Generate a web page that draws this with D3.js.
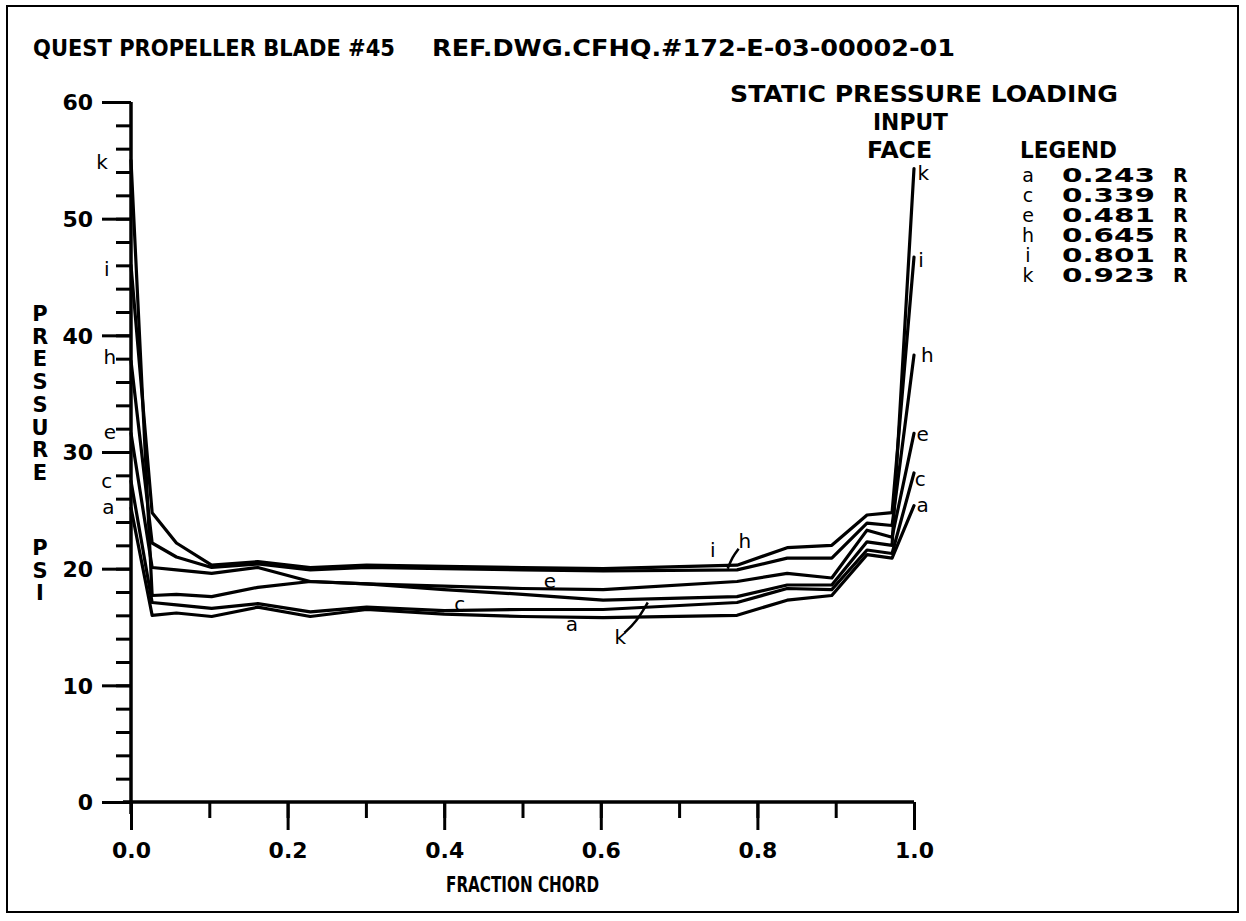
<!DOCTYPE html>
<html>
<head>
<meta charset="utf-8">
<script src="https://cdn.jsdelivr.net/npm/d3@7"></script>
<style>
  html, body { margin: 0; padding: 0; background: #fff; }
  svg text { font-family: "DejaVu Sans", "Liberation Sans", sans-serif; font-weight: bold; fill: #000; }
</style>
</head>
<body>
<svg id="chart" width="1246" height="921"></svg>
<script>
// ---- data ----
const chordStations = [0, 0.027, 0.058, 0.103, 0.162, 0.229, 0.301, 0.4, 0.5, 0.603, 0.774, 0.838, 0.895, 0.94, 0.972, 1.0];
const seriesNames = ["a", "c", "e", "h", "i", "k"];
const radiusLabels = ["0.243", "0.339", "0.481", "0.645", "0.801", "0.923"];
const pressureA = [25.2, 16.0, 16.2, 15.9, 16.7, 15.9, 16.5, 16.1, 15.9, 15.8, 16.0, 17.3, 17.7, 21.2, 20.9, 25.4];
const pressureC = [27.5, 17.1, 16.9, 16.6, 17.0, 16.3, 16.7, 16.4, 16.5, 16.5, 17.1, 18.3, 18.2, 21.6, 21.3, 28.2];
const pressureE = [31.6, 20.1, 19.9, 19.6, 20.1, 18.9, 18.7, 18.5, 18.3, 18.2, 18.9, 19.6, 19.2, 23.3, 22.7, 31.6];
const pressureH = [37.8, 22.2, 21.0, 20.1, 20.4, 19.9, 20.1, 20.0, 19.9, 19.8, 19.9, 20.9, 20.9, 23.9, 23.7, 38.3];
const pressureI = [46.0, 24.8, 22.2, 20.3, 20.6, 20.1, 20.3, 20.2, 20.1, 20.0, 20.3, 21.8, 22.0, 24.6, 24.8, 46.7];
const pressureK = [55.0, 17.7, 17.8, 17.6, 18.4, 18.9, 18.7, 18.2, 17.8, 17.3, 17.6, 18.6, 18.6, 22.3, 22.0, 54.3];
const xTickLabels = ["0.0", "0.2", "0.4", "0.6", "0.8", "1.0"];
const yTickLabels = ["0", "10", "20", "30", "40", "50", "60"];

// curve-label annotations (data units)
const leftLabels = [["a", -0.029, 25.2], ["c", -0.031, 27.4], ["e", -0.027, 31.6], ["h", -0.027, 38.1], ["i", -0.031, 45.6], ["k", -0.037, 54.8]];
const rightLabels = [["a", 1.011, 25.4], ["c", 1.008, 27.6], ["e", 1.011, 31.5], ["h", 1.017, 38.2], ["i", 1.009, 46.4], ["k", 1.012, 53.8]];
const midLabels = [["i", 0.743, 21.5], ["h", 0.784, 22.3], ["e", 0.535, 18.9], ["c", 0.420, 16.9], ["a", 0.563, 15.2], ["k", 0.625, 14.1]];
const leaderH = [[0.762, 20.0], [0.768, 21.0], [0.776, 21.7]];
const leaderK = [[0.630, 14.5], [0.645, 15.4], [0.660, 17.1]];

const seriesValues = [pressureA, pressureC, pressureE, pressureH, pressureI, pressureK];

// ---- drawing ----
const svg = d3.select("#chart");
svg.append("rect").attr("x", 0).attr("y", 0).attr("width", 1246).attr("height", 921).attr("fill", "#fff");
svg.append("rect").attr("x", 7).attr("y", 6).attr("width", 1231).attr("height", 906)
  .attr("fill", "none").attr("stroke", "#000").attr("stroke-width", 2);

const x = d3.scaleLinear().domain([0, 1]).range([131, 914]);
const y = d3.scaleLinear().domain([0, 60]).range([802, 102]);

// Y axis: minor ticks every 2, major every 10
const yMinor = d3.axisLeft(y).tickValues(d3.range(0, 61, 2)).tickSize(15).tickFormat("");
const yMajor = d3.axisLeft(y).tickValues(d3.range(0, 61, 10)).tickSize(29).tickPadding(9)
  .tickFormat((d, i) => yTickLabels[i]);
const gy1 = svg.append("g").attr("transform", `translate(${x(0)},0)`).call(yMinor);
const gy2 = svg.append("g").attr("transform", `translate(${x(0)},0)`).call(yMajor);
[gy1, gy2].forEach(g => {
  g.select(".domain").remove();
  g.selectAll("line").attr("stroke", "#000").attr("stroke-width", 3);
  g.selectAll("text").style("font-size", "22px").style("font-family", "DejaVu Sans").style("font-weight", "bold");
});
gy2.selectAll("text").attr("dy", "0.36em");
svg.append("line").attr("x1", x(0)).attr("x2", x(0)).attr("y1", y(60)).attr("y2", y(0) + 12)
  .attr("stroke", "#000").attr("stroke-width", 3.5);

// X axis: minor ticks every 0.1, major every 0.2
const gx1 = svg.append("g").attr("transform", `translate(0,${y(0)})`)
  .call(d3.axisBottom(x).tickValues(d3.range(0, 1.01, 0.1)).tickSize(16).tickFormat(""));
const gx2 = svg.append("g").attr("transform", `translate(0,${y(0)})`)
  .call(d3.axisBottom(x).tickValues(d3.range(0, 1.01, 0.2)).tickSize(28).tickPadding(12)
    .tickFormat((d, i) => xTickLabels[i]));
[gx1, gx2].forEach(g => {
  g.select(".domain").remove();
  g.selectAll("line").attr("stroke", "#000").attr("stroke-width", 3);
  g.selectAll("text").style("font-size", "22px").style("font-family", "DejaVu Sans").style("font-weight", "bold");
});
svg.append("line").attr("x1", x(0) - 8).attr("x2", x(1)).attr("y1", y(0)).attr("y2", y(0))
  .attr("stroke", "#000").attr("stroke-width", 3.5);

// curves
const line = d3.line().x((d, i) => x(chordStations[i])).y(d => y(d));
svg.append("g").selectAll("path").data(seriesValues).join("path")
  .attr("d", d => line(d))
  .attr("fill", "none").attr("stroke", "#000").attr("stroke-width", 3.2)
  .attr("stroke-linejoin", "round").attr("stroke-linecap", "round");

// leader lines
const leader = d3.line().x(d => x(d[0])).y(d => y(d[1])).curve(d3.curveBasis);
[leaderH, leaderK].forEach(L => svg.append("path").attr("d", leader(L))
  .attr("fill", "none").attr("stroke", "#000").attr("stroke-width", 2.5));

// curve labels
const lbl = svg.append("g").style("font-size", "20px");
[...leftLabels, ...rightLabels, ...midLabels].forEach(([t, dx, dy]) => {
  lbl.append("text").attr("x", x(dx)).attr("y", y(dy)).attr("dy", "0.3em")
    .attr("text-anchor", "middle").style("font-weight", "normal").text(t);
});

// titles
svg.append("text").attr("x", 33).attr("y", 56).style("font-size", "23px")
  .attr("textLength", 362).attr("lengthAdjust", "spacingAndGlyphs").text("QUEST PROPELLER BLADE #45");
svg.append("text").attr("x", 432).attr("y", 56).style("font-size", "23px")
  .attr("textLength", 523).attr("lengthAdjust", "spacingAndGlyphs").text("REF.DWG.CFHQ.#172-E-03-00002-01");
svg.append("text").attr("x", 730).attr("y", 102).style("font-size", "23px")
  .attr("textLength", 388).attr("lengthAdjust", "spacingAndGlyphs").text("STATIC PRESSURE LOADING");
svg.append("text").attr("x", 873).attr("y", 130).style("font-size", "23px")
  .attr("textLength", 75).attr("lengthAdjust", "spacingAndGlyphs").text("INPUT");
svg.append("text").attr("x", 867).attr("y", 158).style("font-size", "23px")
  .attr("textLength", 65).attr("lengthAdjust", "spacingAndGlyphs").text("FACE");
svg.append("text").attr("x", 1020).attr("y", 158).style("font-size", "23px")
  .attr("textLength", 97).attr("lengthAdjust", "spacingAndGlyphs").text("LEGEND");

// legend rows
const leg = svg.append("g");
seriesNames.forEach((s, i) => {
  const by = 182 + i * 20;
  leg.append("text").attr("x", 1028).attr("y", by).attr("text-anchor", "middle")
    .style("font-size", "19px").style("font-weight", "normal").text(s);
  leg.append("text").attr("x", 1062).attr("y", by).style("font-size", "19px")
    .attr("textLength", 93).attr("lengthAdjust", "spacingAndGlyphs").text(radiusLabels[i]);
  leg.append("text").attr("x", 1173).attr("y", by).style("font-size", "19px").text("R");
});

// axis titles
svg.append("text").attr("x", x(0.5)).attr("y", 892).attr("text-anchor", "middle")
  .style("font-size", "22px").attr("textLength", 153).attr("lengthAdjust", "spacingAndGlyphs").text("FRACTION CHORD");
const vt = svg.append("g");
"PRESSURE".split("").forEach((ch, i) => vt.append("text").attr("x", 40).attr("y", 321 + i * 22.7)
  .attr("text-anchor", "middle").style("font-size", "21px").text(ch));
"PSI".split("").forEach((ch, i) => vt.append("text").attr("x", 40).attr("y", 555 + i * 22.7)
  .attr("text-anchor", "middle").style("font-size", "21px").text(ch));
</script>
</body>
</html>
